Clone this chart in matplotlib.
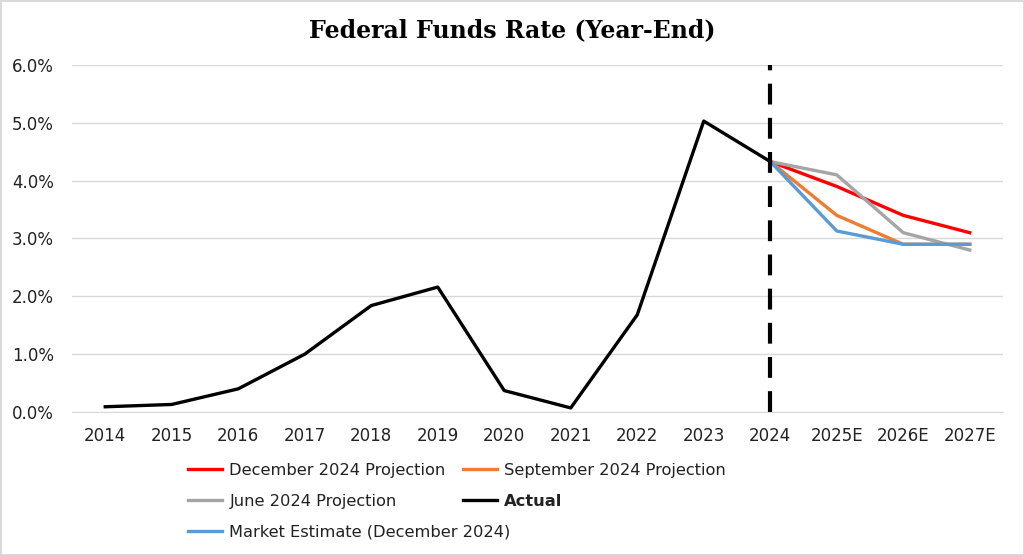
import numpy as np
import matplotlib.pyplot as plt

years = ["2014", "2015", "2016", "2017", "2018", "2019", "2020", "2021",
         "2022", "2023", "2024", "2025E", "2026E", "2027E"]
actual = [0.09, 0.13, 0.40, 1.00, 1.84, 2.16, 0.37, 0.07, 1.68, 5.03, 4.33]

proj_years = ["2024", "2025E", "2026E", "2027E"]
dec_2024 = [4.33, 3.9, 3.4, 3.1]
sep_2024 = [4.33, 3.4, 2.9, 2.9]
jun_2024 = [4.33, 4.1, 3.1, 2.8]
market_dec_2024 = [4.33, 3.13, 2.9, 2.9]

fig = plt.figure(figsize=(10.24, 5.55), dpi=100)
fig.patch.set_edgecolor("#d9d9d9")
fig.patch.set_linewidth(2)
ax = fig.add_axes([0.0703, 0.2577, 0.9092, 0.6252])

x = np.arange(len(years))
px = np.arange(len(years) - len(proj_years), len(years))
lw = 2.4

h_dec, = ax.plot(px, dec_2024, color="#ff0000", lw=lw, label="December 2024 Projection")
h_sep, = ax.plot(px, sep_2024, color="#ed7d31", lw=lw, label="September 2024 Projection")
h_jun, = ax.plot(px, jun_2024, color="#a5a5a5", lw=lw, label="June 2024 Projection")
h_mkt, = ax.plot(px, market_dec_2024, color="#5b9bd5", lw=lw, label="Market Estimate (December 2024)")
h_act, = ax.plot(x[:len(actual)], actual, color="black", lw=lw, label="Actual")

ax.axvline(10, color="black", lw=3, linestyle=(0, (5, 3.2)), zorder=5)

ax.set_xlim(-0.5, len(years) - 0.5)
ax.set_ylim(0, 6)
ax.set_xticks(x)
ax.set_xticklabels(years)
ax.set_yticks(np.arange(0, 7, 1))
ax.set_yticklabels([f"{v:.1f}%" for v in range(0, 7)])
ax.yaxis.grid(True, color="#d9d9d9", lw=1)
ax.set_axisbelow(True)
for s in ["top", "right", "left"]:
    ax.spines[s].set_visible(False)
ax.spines["bottom"].set_color("#d9d9d9")
ax.tick_params(axis="both", length=0, labelsize=12, colors="#222222")
ax.tick_params(axis="y", pad=13)
ax.tick_params(axis="x", pad=11)

fig.text(0.5, 0.946, "Federal Funds Rate (Year-End)", family="DejaVu Serif",
         fontweight="bold", fontsize=17, ha="center", va="center")

# Excel lays the legend out on a fixed grid, so the last row sits in its own legend
leg_kw = dict(loc="upper left", frameon=False, fontsize=11.7, handlelength=2.1,
              handletextpad=0.43, columnspacing=1.05, labelspacing=1.0, borderpad=0)
leg1 = fig.legend(handles=[h_dec, h_jun, h_sep, h_act], ncol=2,
                  bbox_to_anchor=(0.176, 0.1806), **leg_kw)
leg2 = fig.legend(handles=[h_mkt], ncol=1, bbox_to_anchor=(0.176, 0.0688), **leg_kw)
for leg in (leg1, leg2):
    for t in leg.get_texts():
        t.set_color("#222222")
        if t.get_text() == "Actual":
            t.set_fontweight("bold")

fig.savefig("out.png", dpi=100)
